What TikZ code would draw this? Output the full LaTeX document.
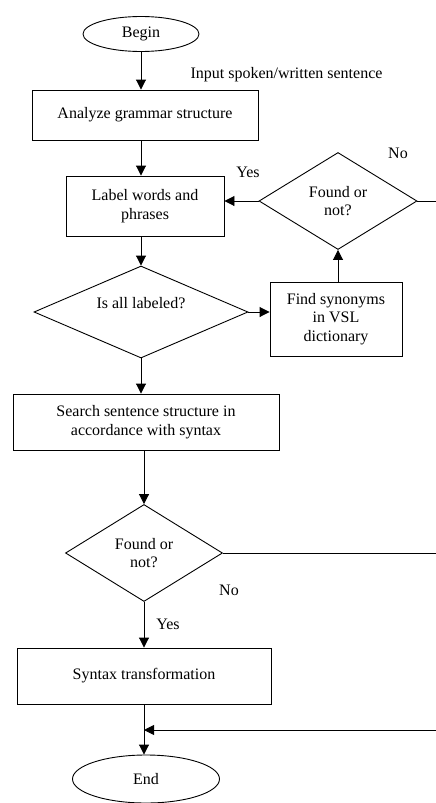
\documentclass[tikz,border=0pt]{standalone}
\usepackage{fontspec}
\setmainfont{Liberation Serif}
\usetikzlibrary{arrows.meta,positioning,shapes.geometric,calc}

\newcommand{\flowfont}{\fontsize{16}{18.5}\selectfont}
\tikzset{
    process/.style={draw, line width=0.9pt, align=center, font=\flowfont, inner sep=0pt},
    decision/.style={draw, diamond, aspect=1.6, line width=0.9pt, align=center, font=\flowfont, inner sep=0pt},
    terminal/.style={draw, ellipse, line width=0.9pt, font=\flowfont, inner sep=0pt},
    flow/.style={-{Triangle[width=10pt,length=10pt]}, line width=0.9pt},
    note/.style={font=\flowfont}
}

\begin{document}
\begin{tikzpicture}[x=1pt,y=-1pt]
    \useasboundingbox (0,0) rectangle (436,803);
    \node[terminal, minimum width=116pt, minimum height=35pt] (begin) at (141,34) {Begin};
\node[note, anchor=west] (input-note) at (187,75) {Input spoken/written sentence};
\node[process, minimum width=226pt, minimum height=50pt] (analyze-grammar) at (145,115) {Analyze grammar structure};
\node[process, minimum width=158pt, minimum height=60pt] (label-words) at (145,206) {Label words and\\phrases};
\node[decision, minimum width=158pt, minimum height=97pt] (found-synonym) at (338,201) {Found or\\not?};
\node[decision, minimum width=214pt, minimum height=92pt] (all-labeled) at (141,312) {Is all labeled?\\\mbox{}};
\node[process, minimum width=132pt, minimum height=74pt] (find-synonyms) at (336,319) {Find synonyms\\in VSL\\dictionary};
\node[process, minimum width=266pt, minimum height=56pt] (search-structure) at (146,422) {Search sentence structure in\\accordance with syntax};
\node[decision, minimum width=157pt, minimum height=97pt] (found-structure) at (144,553) {Found or\\not?};
\node[process, minimum width=254pt, minimum height=56pt] (syntax-transform) at (144,676) {Syntax transformation};
\node[terminal, minimum width=147pt, minimum height=48pt] (end) at (146,779) {End};
% branch labels
\node[note] (yes-top) at (248,172) {Yes};
\node[note] (no-top) at (398,153) {No};
\node[note] (no-bottom) at (229,590) {No};
\node[note] (yes-bottom) at (168,624) {Yes};
% loose ends at the right border
\coordinate (right-top) at (436,201);
\coordinate (right-mid) at (436,553);
\coordinate (right-low) at (436,730);
\coordinate (main-line) at (141,0);
\coordinate (low-line) at (144,0);
% main flow
\draw[flow] (begin) -- (begin |- analyze-grammar.north);
\draw[flow] (analyze-grammar.south -| main-line) -- (label-words.north -| main-line);
\draw[flow] (label-words.south -| main-line) -- (all-labeled.north);
\draw[flow] (all-labeled.south) -- (search-structure.north -| main-line);
\draw[flow] (search-structure.south -| low-line) -- (found-structure.north);
\draw[flow] (found-structure.south) -- (syntax-transform.north -| found-structure.south);
\draw[flow] (syntax-transform.south -| low-line) -- (end.north -| low-line);
% synonym loop
\draw[flow] (all-labeled.east) -- (all-labeled.east -| find-synonyms.west);
\draw[flow] (find-synonyms.north -| found-synonym.south) -- (found-synonym.south);
\draw[flow] (found-synonym.west) -- (found-synonym.west -| label-words.east);
\draw[line width=0.9pt] (found-synonym.east) -- (right-top);
% not found
\draw[line width=0.9pt] (found-structure.east) -- (right-mid);
\draw[flow] (right-low) -- (right-low -| low-line);
\end{tikzpicture}
\end{document}
